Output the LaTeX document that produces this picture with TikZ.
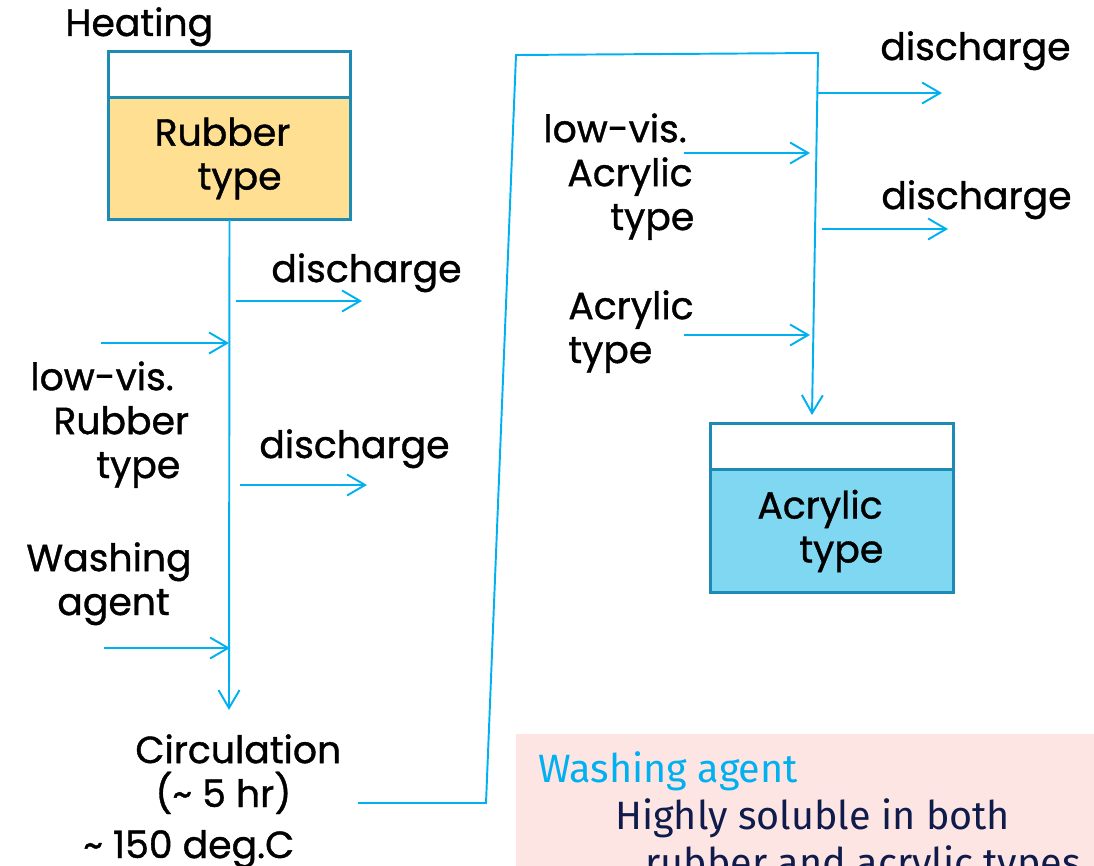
\documentclass[tikz,border=0pt]{standalone}
\usepackage{fontspec}
\setmainfont{Poppins}[FakeBold=1]
\newfontfamily\notefont{Fira Sans}
\usetikzlibrary{arrows.meta,positioning}
\definecolor{pipeblue}{HTML}{00B0F0}
\definecolor{tankedge}{HTML}{1D8BB4}
\definecolor{rubberfill}{HTML}{FFDF91}
\definecolor{acrylfill}{HTML}{80D7F2}
\definecolor{notefill}{HTML}{FDE5E4}
\definecolor{notenavy}{HTML}{0F1B4B}
\tikzset{
  pipe/.style={draw=pipeblue,line width=1.1pt},
  feed/.style={pipe,-{Straight Barb[length=3.6mm,width=4.2mm,line width=1.1pt]}},
  tank/.style={draw=tankedge,line width=1.7pt,minimum width=4.86cm,minimum height=2.46cm,
    inner sep=0pt,outer sep=0pt,align=left,font=\fontsize{21.5}{25}\selectfont},
  lid/.style={draw=tankedge,line width=1.7pt,fill=white,minimum width=4.86cm,
    minimum height=0.92cm,outer sep=0pt},
  lbl/.style={anchor=base west,align=left,inner sep=0pt,font=\fontsize{21.5}{25}\selectfont},
}

\begin{document}
\begin{tikzpicture}[x=0.02cm,y=-0.02cm]
\useasboundingbox (0,0) rectangle (1094,865);
\clip (0,0) rectangle (1094,865);
% tanks
\node[tank,fill=rubberfill] (rubber) at (229.5,158.5) {Rubber\hspace*{0.28cm}\\\hspace*{0.86cm}type};
\node[lid,above=0pt of rubber] (rubberlid) {};
\node[tank,fill=acrylfill] (acryl) at (832,531) {Acrylic\hspace*{0.48cm}\\\hspace*{0.84cm}type};
\node[lid,above=0pt of acryl] (acryllid) {};
% labels (base = last line)
\node[lbl] (heat) at (65,36) {Heating};
\node[lbl] (disA) at (271,282) {discharge};
\node[lbl] (disB) at (259,458) {discharge};
\node[lbl] (disC) at (880,60) {discharge};
\node[lbl] (disD) at (881,209) {discharge};
\node[lbl] (lowrub) at (30,478) {low-vis.\\\hspace*{0.46cm}Rubber\\\hspace*{1.32cm}type};
\node[lbl] (wash) at (26,615) {Washing\\\hspace*{0.62cm}agent};
\node[lbl] (lowacr) at (543,230) {low-vis.\\\hspace*{0.48cm}Acrylic\\\hspace*{1.34cm}type};
\node[lbl] (acr) at (568,363) {Acrylic\\type};
\node[lbl] (circ) at (135,807) {Circulation\\\hspace*{0.4cm}(\textasciitilde\ 5 hr)};
\node[lbl] (temp) at (83,858) {\textasciitilde\ 150 deg.C};
% washing agent note
\node[fill=notefill,anchor=north west,minimum width=12cm,minimum height=4cm] (notebox) at (516,734) {};
\node[anchor=base west,align=left,inner sep=0pt,font=\notefont\fontsize{22.5}{26.7}\selectfont] (note) at (538,876)
  {\textcolor{pipeblue}{Washing agent}\\\hspace*{1.54cm}\textcolor{notenavy}{Highly soluble in both}\\
   \hspace*{2.14cm}\textcolor{notenavy}{rubber and acrylic types}};
% rubber side pipes
\coordinate (circin) at (229,710);
\draw[feed] (rubber.south) -- (circin);
\coordinate (inA) at (101,343); \coordinate (jA) at (229,343);
\coordinate (inB) at (104,648); \coordinate (jB) at (230,648);
\coordinate (outA) at (236,301); \coordinate (endA) at (362,301);
\coordinate (outB) at (240,485); \coordinate (endB) at (367,485);
\draw[feed] (inA) -- (jA);
\draw[feed] (inB) -- (jB);
\draw[feed] (outA) -- (endA);
\draw[feed] (outB) -- (endB);
% return line to acrylic side
\coordinate (retA) at (358,803); \coordinate (retB) at (486,803);
\coordinate (retC) at (516,55); \coordinate (retD) at (818,53);
\coordinate (acrin) at (812,415);
\draw[feed] (retA) -- (retB) -- (retC) -- (retD) -- (acrin);
\coordinate (inC) at (684,153); \coordinate (jC) at (810,153);
\coordinate (inD) at (684,335); \coordinate (jD) at (810,335);
\coordinate (outC) at (818,93); \coordinate (endC) at (942,93);
\coordinate (outD) at (822,229); \coordinate (endD) at (948,229);
\draw[feed] (inC) -- (jC);
\draw[feed] (inD) -- (jD);
\draw[feed] (outC) -- (endC);
\draw[feed] (outD) -- (endD);
\end{tikzpicture}
\end{document}
